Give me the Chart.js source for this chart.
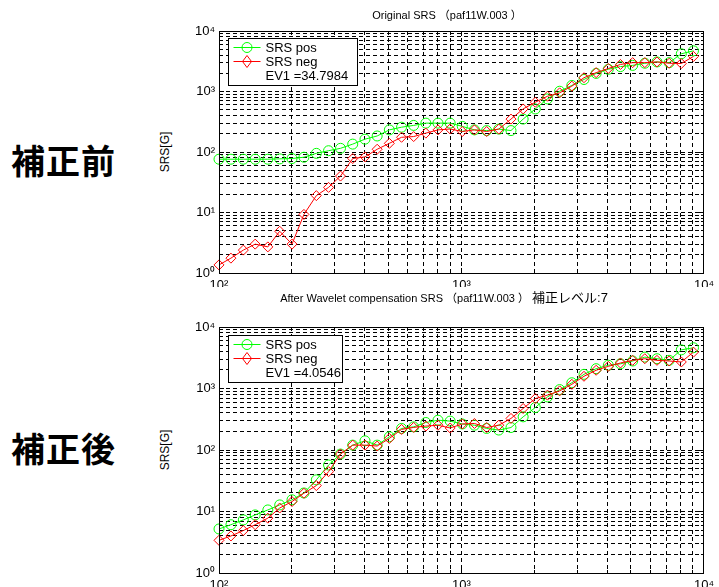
<!DOCTYPE html>
<html>
<head>
<meta charset="utf-8">
<script src="https://cdn.jsdelivr.net/npm/chart.js@4.4.0/dist/chart.umd.min.js"></script>
<style>
  html, body { margin: 0; padding: 0; background: #fff; }
  body { width: 719px; height: 587px; position: relative; overflow: hidden; font-family: "Liberation Sans", Arial, sans-serif; }
  canvas { position: absolute; left: 0; }
  #top { top: 0; }
  #bottom { top: 285px; }
  .side { position: absolute; left: 11px; font-family: "Noto Sans CJK JP", sans-serif; font-size: 34px; font-weight: bold; line-height: 34px; letter-spacing: 1px; color: #000; }
  .ylab { position: absolute; width: 60px; height: 14px; line-height: 14px; text-align: center; font-size: 12px; transform: rotate(-90deg); white-space: nowrap; }
</style>
</head>
<body>
<div class="side" style="top:143px">補正前</div>
<div class="side" style="top:431px">補正後</div>
<div class="ylab" style="left:135px;top:145px">SRS[G]</div>
<div class="ylab" style="left:135px;top:443px">SRS[G]</div>
<canvas id="top" width="719" height="295"></canvas>
<canvas id="bottom" width="719" height="302"></canvas>
<script>
// 1/6 octave frequencies [Hz]
const freqs = [100, 112, 126, 141, 159, 178, 200, 224, 252, 283,
  317, 356, 400, 449, 504, 566, 635, 713, 800, 898,
  1008, 1131, 1270, 1425, 1600, 1796, 2016, 2263, 2540, 2851,
  3200, 3592, 4032, 4525, 5080, 5702, 6400, 7184, 8063, 9051];

// Original SRS
const origPos = [76, 76, 76, 76, 76, 77, 78, 82, 95, 105,
  115, 135, 163, 184, 232, 257, 275, 300, 300, 300,
  265, 232, 226, 239, 226, 350, 515, 755, 1010, 1260,
  1580, 1990, 2330, 2580, 2700, 2930, 3080, 3000, 4200, 4700];
const origNeg = [1.36, 1.76, 2.39, 3.0, 2.7, 4.9, 3.0, 9.3, 19, 26,
  40, 78, 83, 111, 139, 175, 180, 205, 232, 240,
  218, 232, 218, 239, 350, 515, 665, 835, 950, 1225,
  1690, 2050, 2400, 2800, 3000, 3000, 3080, 2930, 2900, 3800];

// After Wavelet compensation
const compPos = [5.2, 6.1, 7.3, 8.8, 10.6, 12.8, 15.5, 20, 32.7, 57,
  86, 120, 141, 120, 164, 224, 238, 280, 305, 295,
  265, 253, 224, 211, 232, 346, 490, 730, 960, 1240,
  1700, 2100, 2390, 2520, 2800, 3240, 3050, 2870, 4250, 4600];
const compNeg = [3.4, 4.0, 4.9, 6.1, 7.8, 11.4, 14.5, 19.8, 26.4, 44.5,
  86, 120, 120, 116, 154, 216, 233, 245, 253, 228,
  265, 270, 232, 253, 326, 473, 686, 780, 915, 1170,
  1580, 1980, 2290, 2600, 2870, 3050, 2870, 2800, 2700, 3900];

const seriesNames = ["SRS pos", "SRS neg"];
const ev1Top = "EV1 =34.7984";
const ev1Bottom = "EV1 =4.0546";
const xRange = [100, 10000];
const yRange = [1, 10000];
const sup = ["\u2070", "\u00B9", "\u00B2", "\u00B3", "\u2074"];

const GREEN = "#00ff00";
const RED = "#ff0000";
const FONT = '"Liberation Sans", Arial, "Noto Sans CJK JP", sans-serif';

// ticks at 1..9 x 10^n
function logTicks(lo, hi) {
  const out = [];
  for (let d = lo; d < hi; d *= 10) {
    for (let m = 1; m < 10; m++) out.push({ value: m * d });
  }
  out.push({ value: hi });
  return out;
}

function isDecade(v) {
  const e = Math.round(Math.log10(v));
  return Math.abs(Math.pow(10, e) - v) < 1e-6 * v;
}

function decadeLabel(v) {
  if (!isDecade(v)) return "";
  return "10" + sup[Math.round(Math.log10(v))];
}

function align(p) {
  return Math.round(p - 0.5) + 0.5;
}

// box, inward ticks, legend and title like the old MATLAB figure
const matlabLook = {
  id: "matlabLook",
  afterDraw(chart, args, o) {
    const { ctx, chartArea: a, scales } = chart;
    ctx.save();
    ctx.strokeStyle = "#000";
    ctx.lineWidth = 1;
    ctx.setLineDash([]);

    ctx.beginPath();
    scales.x.ticks.forEach(t => {
      const px = align(scales.x.getPixelForValue(t.value));
      const len = isDecade(t.value) ? 5 : 3;
      ctx.moveTo(px, a.bottom); ctx.lineTo(px, a.bottom - len);
      ctx.moveTo(px, a.top); ctx.lineTo(px, a.top + len);
    });
    scales.y.ticks.forEach(t => {
      const py = align(scales.y.getPixelForValue(t.value));
      const len = isDecade(t.value) ? 5 : 3;
      ctx.moveTo(a.left, py); ctx.lineTo(a.left + len, py);
      ctx.moveTo(a.right, py); ctx.lineTo(a.right - len, py);
    });
    ctx.stroke();

    const l = align(a.left), t = align(a.top);
    ctx.strokeRect(l, t, align(a.right) - l, align(a.bottom) - t);

    // legend
    const bx = align(a.left + 9), by = align(a.top + o.legendTop);
    ctx.fillStyle = "#fff";
    ctx.fillRect(bx, by, o.legendW, 47);
    ctx.strokeRect(bx, by, o.legendW, 47);
    ctx.font = "13px " + FONT;
    ctx.textBaseline = "middle";
    ctx.textAlign = "left";
    chart.data.datasets.slice().sort((p, q) => p.legendRow - q.legendRow).forEach(ds => {
      const yy = by + 9 + ds.legendRow * 14;
      ctx.strokeStyle = ds.borderColor;
      ctx.beginPath();
      ctx.moveTo(bx + 5, yy); ctx.lineTo(bx + 32, yy);
      ctx.stroke();
      const cx = bx + 18.5;
      ctx.beginPath();
      if (ds.pointStyle === "circle") {
        ctx.arc(cx, yy, 5, 0, Math.PI * 2);
      } else {
        ctx.moveTo(cx, yy - 6); ctx.lineTo(cx + 4.5, yy);
        ctx.lineTo(cx, yy + 6); ctx.lineTo(cx - 4.5, yy); ctx.closePath();
      }
      ctx.stroke();
      ctx.fillStyle = "#000";
      ctx.fillText(ds.label, bx + 37, yy + 1);
    });
    ctx.fillStyle = "#000";
    ctx.fillText(o.ev1, bx + 37, by + 9 + 2 * 14 + 1);

    // title, drawn in parts so the Japanese can be a bit larger
    let total = 0;
    o.title.forEach(part => {
      ctx.font = part[1] + "px " + FONT;
      total += ctx.measureText(part[0]).width;
    });
    let x = o.titleX - total / 2;
    ctx.textBaseline = "alphabetic";
    o.title.forEach(part => {
      ctx.font = part[1] + "px " + FONT;
      ctx.fillText(part[0], x, o.titleY);
      x += ctx.measureText(part[0]).width;
    });
    ctx.restore();
  }
};

function makeChart(id, pos, neg, opts) {
  const toPoints = vals => freqs.map((f, i) => ({ x: f, y: vals[i] }));
  return new Chart(document.getElementById(id), {
    type: "line",
    data: {
      datasets: [
        {
          label: seriesNames[1], data: toPoints(neg), legendRow: 1, order: 1,
          borderColor: RED, borderWidth: 1, pointStyle: "rectRot", pointRadius: 5,
          pointBorderColor: RED, pointBackgroundColor: "rgba(0,0,0,0)", pointBorderWidth: 1,
          tension: 0, clip: false
        },
        {
          label: seriesNames[0], data: toPoints(pos), legendRow: 0, order: 2,
          borderColor: GREEN, borderWidth: 1, pointStyle: "circle", pointRadius: 5,
          pointBorderColor: GREEN, pointBackgroundColor: "rgba(0,0,0,0)", pointBorderWidth: 1,
          tension: 0, clip: false
        }
      ]
    },
    options: {
      responsive: false,
      animation: false,
      layout: { padding: opts.padding },
      plugins: {
        legend: { display: false },
        title: { display: false },
        tooltip: { enabled: false },
        matlabLook: opts.look
      },
      scales: {
        x: {
          type: "logarithmic", min: xRange[0], max: xRange[1],
          afterBuildTicks: s => { s.ticks = logTicks(xRange[0], xRange[1]); },
          afterFit: s => { s.height = 14; },
          ticks: { autoSkip: false, maxRotation: 0, padding: 5, color: "#000",
            font: { family: FONT, size: 13 }, callback: v => decadeLabel(v) },
          grid: { color: "#000", lineWidth: 1, drawTicks: false, borderDash: [4, 3] },
          border: { display: false, dash: [4, 3] }
        },
        y: {
          type: "logarithmic", min: yRange[0], max: yRange[1],
          afterBuildTicks: s => { s.ticks = logTicks(yRange[0], yRange[1]); },
          afterFit: s => { s.width = 45; },
          ticks: { autoSkip: false, padding: 4, color: "#000",
            font: { family: FONT, size: 13 }, callback: v => decadeLabel(v) },
          grid: { color: "#000", lineWidth: 1, drawTicks: false, borderDash: [4, 3] },
          border: { display: false, dash: [4, 3] }
        }
      }
    },
    plugins: [matlabLook]
  });
}

makeChart("top", origPos, origNeg, {
  padding: { left: 174, right: 14, top: 31, bottom: 8 },
  look: { legendTop: 7, legendW: 129, ev1: ev1Top, titleX: 447, titleY: 19,
    title: [["Original SRS \uFF08paf11W.003 \uFF09", 11]] }
});

makeChart("bottom", compPos, compNeg, {
  padding: { left: 174, right: 14, top: 42, bottom: 0 },
  look: { legendTop: 8, legendW: 114, ev1: ev1Bottom, titleX: 444, titleY: 17,
    title: [["After Wavelet compensation SRS \uFF08paf11W.003 \uFF09 ", 11], ["補正レベル:7", 13]] }
});
</script>
</body>
</html>
